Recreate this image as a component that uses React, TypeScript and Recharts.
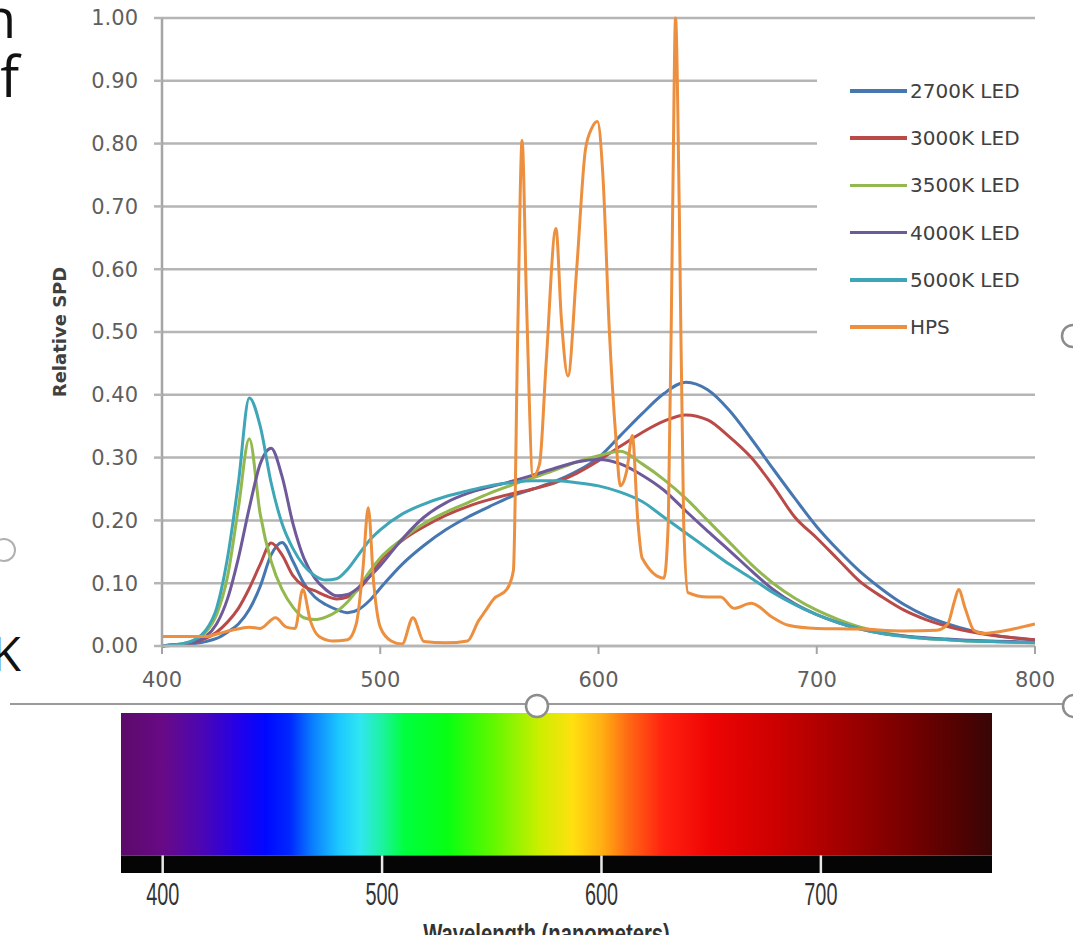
import {
  CartesianGrid,
  ComposedChart,
  Legend,
  Line,
  LineChart,
  ReferenceArea,
  ReferenceLine,
  XAxis,
  YAxis,
} from "recharts";

// wavelength grid shared by the LED curves
const ledNm = [
  400, 405, 410, 415, 420, 425, 430, 435, 440, 445, 450, 455, 460, 465, 470, 475, 480, 485, 490, 495, 500,
  510, 520, 530, 540, 550, 560, 570, 580, 590, 600, 610, 620, 630, 640, 650, 660, 670, 680, 690, 700,
  710, 720, 730, 740, 750, 760, 770, 780, 790, 800,
];

const led2700 = [
  0, 0.001, 0.002, 0.004, 0.007, 0.012, 0.022, 0.035, 0.058, 0.095, 0.145, 0.165, 0.135, 0.1, 0.078, 0.066, 0.058, 0.053, 0.058, 0.072, 0.092,
  0.13, 0.16, 0.185, 0.205, 0.222, 0.238, 0.25, 0.262, 0.278, 0.3, 0.335, 0.37, 0.402, 0.42, 0.408, 0.375, 0.33, 0.282, 0.235, 0.19,
  0.152, 0.118, 0.09, 0.066, 0.048, 0.035, 0.025, 0.018, 0.013, 0.01,
];
const led3000 = [
  0, 0.002, 0.003, 0.006, 0.012, 0.022, 0.038, 0.06, 0.092, 0.13, 0.164, 0.145, 0.112, 0.095, 0.088, 0.08, 0.075, 0.078, 0.09, 0.11, 0.135,
  0.168, 0.19, 0.208, 0.222, 0.233, 0.242, 0.25, 0.26, 0.275, 0.295, 0.318, 0.34, 0.358, 0.368, 0.36, 0.333, 0.3, 0.255, 0.205, 0.172,
  0.137, 0.102, 0.078, 0.057, 0.042, 0.031, 0.023, 0.017, 0.013, 0.01,
];
const led3500 = [
  0, 0.002, 0.004, 0.01, 0.022, 0.05, 0.11, 0.22, 0.33, 0.21, 0.135, 0.09, 0.062, 0.045, 0.042, 0.046, 0.055, 0.07, 0.092, 0.118, 0.14,
  0.17, 0.195, 0.213, 0.228, 0.243, 0.256, 0.268, 0.28, 0.293, 0.303, 0.31, 0.29, 0.265, 0.235, 0.2, 0.165, 0.13, 0.1, 0.076, 0.057,
  0.042, 0.03, 0.022, 0.016, 0.012, 0.01, 0.008, 0.007, 0.006, 0.005,
];
const led4000 = [
  0, 0.002, 0.003, 0.007, 0.015, 0.035, 0.075, 0.14, 0.22, 0.29, 0.315, 0.27, 0.195, 0.14, 0.108, 0.09, 0.08, 0.082, 0.093, 0.11, 0.128,
  0.17, 0.205, 0.228, 0.243, 0.253, 0.262, 0.272, 0.283, 0.293, 0.297, 0.29, 0.272, 0.248, 0.215, 0.183, 0.152, 0.12, 0.09, 0.067, 0.05,
  0.037, 0.027, 0.02, 0.016, 0.013, 0.011, 0.009, 0.008, 0.007, 0.006,
];
const led5000 = [
  0, 0.002, 0.004, 0.01, 0.025, 0.06, 0.14, 0.26, 0.395, 0.35, 0.26, 0.195, 0.155, 0.128, 0.112, 0.105, 0.107, 0.122, 0.145, 0.168, 0.185,
  0.21, 0.226, 0.238, 0.247, 0.255, 0.26, 0.263, 0.263, 0.26, 0.255, 0.245, 0.23, 0.205, 0.18, 0.155, 0.13, 0.108, 0.085, 0.066, 0.05,
  0.037, 0.027, 0.02, 0.015, 0.012, 0.01, 0.008, 0.007, 0.006, 0.005,
];

// HPS has narrow lines, so it gets its own wavelength list
const hpsNm = [
  400, 420, 426, 432, 440, 445, 452, 457, 461, 464.5, 468, 472, 478, 485, 489, 492, 494.5, 497, 500, 505,
  510, 515, 520, 530, 540, 545, 548, 552, 558, 561, 563, 565, 567, 570, 573, 576, 580.5, 583, 586, 590,
  594, 597, 599.5, 602, 605, 608, 610, 613, 615.5, 618, 620, 630, 632, 634, 635.3, 637, 639, 641, 650, 656,
  662, 670, 680, 687, 700, 720, 740, 755, 760, 763, 765, 768, 772, 776, 790, 800,
];
const hps = [
  0.015, 0.015, 0.02, 0.025, 0.03, 0.028, 0.045, 0.03, 0.028, 0.09, 0.04, 0.015, 0.008, 0.01, 0.035, 0.12, 0.22, 0.1, 0.03, 0.008,
  0.003, 0.045, 0.007, 0.005, 0.008, 0.04, 0.055, 0.075, 0.09, 0.12, 0.5, 0.805, 0.55, 0.27, 0.29, 0.45, 0.665, 0.52, 0.43, 0.6,
  0.79, 0.825, 0.835, 0.75, 0.5, 0.33, 0.255, 0.28, 0.335, 0.2, 0.14, 0.108, 0.2, 0.7, 1.0, 0.7, 0.2, 0.085, 0.078, 0.078,
  0.06, 0.068, 0.045, 0.033, 0.028, 0.027, 0.024, 0.025, 0.035, 0.07, 0.09, 0.06, 0.025, 0.02, 0.027, 0.035,
];

const seriesNames = ["2700K LED", "3000K LED", "3500K LED", "4000K LED", "5000K LED", "HPS"];
const seriesColors = ["#4677b0", "#b94a48", "#93b84f", "#6e5a9b", "#3fa6b8", "#ec8f3e"];

const xTicks = [400, 500, 600, 700, 800];
const yTicks = [0, 0.1, 0.2, 0.3, 0.4, 0.5, 0.6, 0.7, 0.8, 0.9, 1.0];

// colour bar below the chart
const bandDomain = [381, 778];
const bandTicks = [400, 500, 600, 700];
const spectrumNm = [381, 400, 418, 435, 447, 458, 468, 480, 490, 500, 510, 530, 550, 572, 587, 600, 612, 628, 650, 680, 710, 740, 765, 778];
const spectrumColors = [
  "#5c0a6a", "#680a86", "#4c06b4", "#2200ea", "#0008ff", "#0028ff", "#0a7cff", "#1cc6ff", "#30e6f2", "#1ef2a0",
  "#00ff40", "#08ff12", "#5ef800", "#cdee00", "#ffe010", "#ffb012", "#ff6a14", "#ff2210", "#ee0404", "#cc0000",
  "#a20000", "#760000", "#4e0202", "#380606",
];

const toPoints = (nm: number[], v: number[]) => nm.map((x, i) => ({ nm: x, v: v[i] }));

const series = [
  toPoints(ledNm, led2700),
  toPoints(ledNm, led3000),
  toPoints(ledNm, led3500),
  toPoints(ledNm, led4000),
  toPoints(ledNm, led5000),
  toPoints(hpsNm, hps),
];

const tickStyle = { fill: "#5f5f5f", fontSize: 21, fontFamily: "DejaVu Sans" };

function LegendBox() {
  return (
    <div style={{ position: "relative", width: 225, height: 315, background: "#fff", fontFamily: "DejaVu Sans" }}>
      {seriesNames.map((name, i) => (
        <div
          key={name}
          style={{ position: "absolute", left: 0, top: 36 + i * 47.2, height: 30, display: "flex", alignItems: "center" }}
        >
          <span style={{ display: "inline-block", marginLeft: 33, width: 57, height: 3.5, background: seriesColors[i] }} />
          <span style={{ marginLeft: 3, fontSize: 20, color: "#404040", whiteSpace: "nowrap" }}>{name}</span>
        </div>
      ))}
    </div>
  );
}

function BandTick(props: any) {
  const { x, y, payload } = props;
  return (
    <g transform={`translate(${x},${y})`}>
      <text
        transform="scale(0.64,1)"
        textAnchor="middle"
        dy="0.71em"
        fontSize={31}
        fill="#333"
        fontFamily="Liberation Sans"
      >
        {payload.value}
      </text>
    </g>
  );
}

function BandLabel(props: any) {
  const { x, y, width, height } = props.viewBox;
  return (
    <g transform={`translate(${x + width / 2 - 10},${y + height + 8})`}>
      <text transform="scale(0.75,1)" textAnchor="middle" fontSize={27} fontWeight={700} fill="#333" fontFamily="Liberation Sans">
        Wavelength (nanometers)
      </text>
    </g>
  );
}

export default function App() {
  return (
    <div style={{ position: "absolute", left: 0, top: 0, width: 1073, height: 935, background: "#fff", overflow: "hidden" }}>
      <div style={{ position: "absolute", left: 0, top: 0 }}>
        <LineChart width={1073} height={700} margin={{ top: 18, right: 38, bottom: 24, left: 62 }}>
          <CartesianGrid vertical={false} stroke="#b5b5b5" strokeWidth={2.5} />
          <XAxis
            type="number"
            dataKey="nm"
            domain={[400, 800]}
            ticks={xTicks}
            allowDataOverflow
            height={30}
            tickSize={8}
            tickMargin={18}
            axisLine={{ stroke: "#b5b5b5", strokeWidth: 2.5 }}
            tickLine={{ stroke: "#a5a5a5", strokeWidth: 2 }}
            tick={tickStyle}
          />
          <YAxis
            type="number"
            domain={[0, 1]}
            ticks={yTicks}
            width={100}
            tickSize={8}
            tickMargin={16}
            tickFormatter={(v: number) => v.toFixed(2)}
            axisLine={{ stroke: "#a5a5a5", strokeWidth: 2.5 }}
            tickLine={{ stroke: "#b5b5b5", strokeWidth: 2.5 }}
            tick={tickStyle}
            label={{
              value: "Relative SPD",
              angle: -90,
              position: "insideLeft",
              offset: -2,
              fontSize: 18,
              fontWeight: 700,
              fill: "#404040",
              fontFamily: "DejaVu Sans",
              style: { textAnchor: "middle" },
            }}
          />
          <Legend
            layout="vertical"
            align="center"
            verticalAlign="middle"
            content={() => <LegendBox />}
            wrapperStyle={{ left: 817, top: 40, width: 225, height: 315 }}
          />
          {series.map((data, i) => (
            <Line
              key={seriesNames[i]}
              data={data}
              dataKey="v"
              name={seriesNames[i]}
              type="monotone"
              stroke={seriesColors[i]}
              strokeWidth={3}
              dot={false}
              activeDot={false}
              isAnimationActive={false}
            />
          ))}
        </LineChart>
      </div>

      <div style={{ position: "absolute", left: 0, top: 690 }}>
        <ComposedChart
          width={1073}
          height={245}
          data={bandTicks.map((nm) => ({ nm, level: 1 }))}
          margin={{ top: 23, right: 81, bottom: 0, left: 121 }}
        >
          <defs>
            <linearGradient id="spectrum" x1="0" y1="0" x2="1" y2="0">
              {spectrumNm.map((nm, i) => (
                <stop
                  key={nm}
                  offset={(nm - bandDomain[0]) / (bandDomain[1] - bandDomain[0])}
                  stopColor={spectrumColors[i]}
                />
              ))}
            </linearGradient>
          </defs>
          <XAxis
            type="number"
            dataKey="nm"
            domain={bandDomain}
            ticks={bandTicks}
            allowDataOverflow
            axisLine={false}
            tickLine={false}
            tickSize={0}
            tickMargin={10}
            height={62}
            tick={<BandTick />}
            label={<BandLabel />}
          />
          <YAxis hide type="number" domain={[0, 1]} allowDataOverflow />
          <Line dataKey="level" stroke="none" dot={false} activeDot={false} isAnimationActive={false} legendType="none" />
          <ReferenceArea
            x1={bandDomain[0]}
            x2={bandDomain[1]}
            y1={0.11}
            y2={1}
            fill="url(#spectrum)"
            fillOpacity={1}
            stroke="none"
            ifOverflow="visible"
          />
          <ReferenceArea
            x1={bandDomain[0]}
            x2={bandDomain[1]}
            y1={0}
            y2={0.11}
            fill="#050505"
            fillOpacity={1}
            stroke="none"
            ifOverflow="visible"
          />
          {bandTicks.map((nm) => (
            <ReferenceLine
              key={nm}
              segment={[
                { x: nm, y: 0 },
                { x: nm, y: 0.11 },
              ]}
              stroke="#e8e8e8"
              strokeWidth={2.5}
              ifOverflow="visible"
            />
          ))}
        </ComposedChart>
      </div>

      {/* slide leftovers around the picture */}
      <svg width={1073} height={935} style={{ position: "absolute", left: 0, top: 0, pointerEvents: "none" }}>
        <line x1={10} y1={704} x2={1073} y2={704} stroke="#9a9a9a" strokeWidth={2} />
        <circle cx={537} cy={706} r={11} fill="#fff" stroke="#8c8c8c" strokeWidth={2.5} />
        <circle cx={1074} cy={706} r={11} fill="#fff" stroke="#8c8c8c" strokeWidth={2.5} />
        <circle cx={1073} cy={336} r={11} fill="#fff" stroke="#8c8c8c" strokeWidth={2.5} />
        <circle cx={4} cy={550} r={11} fill="none" stroke="#b0b0b0" strokeWidth={2} />
        <text x={16} y={38} textAnchor="end" fontSize={54} fontFamily="Open Sans" fill="#111">
          n
        </text>
        <text x={19} y={97} textAnchor="end" fontSize={56} fontFamily="Open Sans" fill="#111">
          f
        </text>
        <text x={21} y={671} textAnchor="end" fontSize={48} fontFamily="Open Sans" fill="#111">
          K
        </text>
      </svg>
    </div>
  );
}
